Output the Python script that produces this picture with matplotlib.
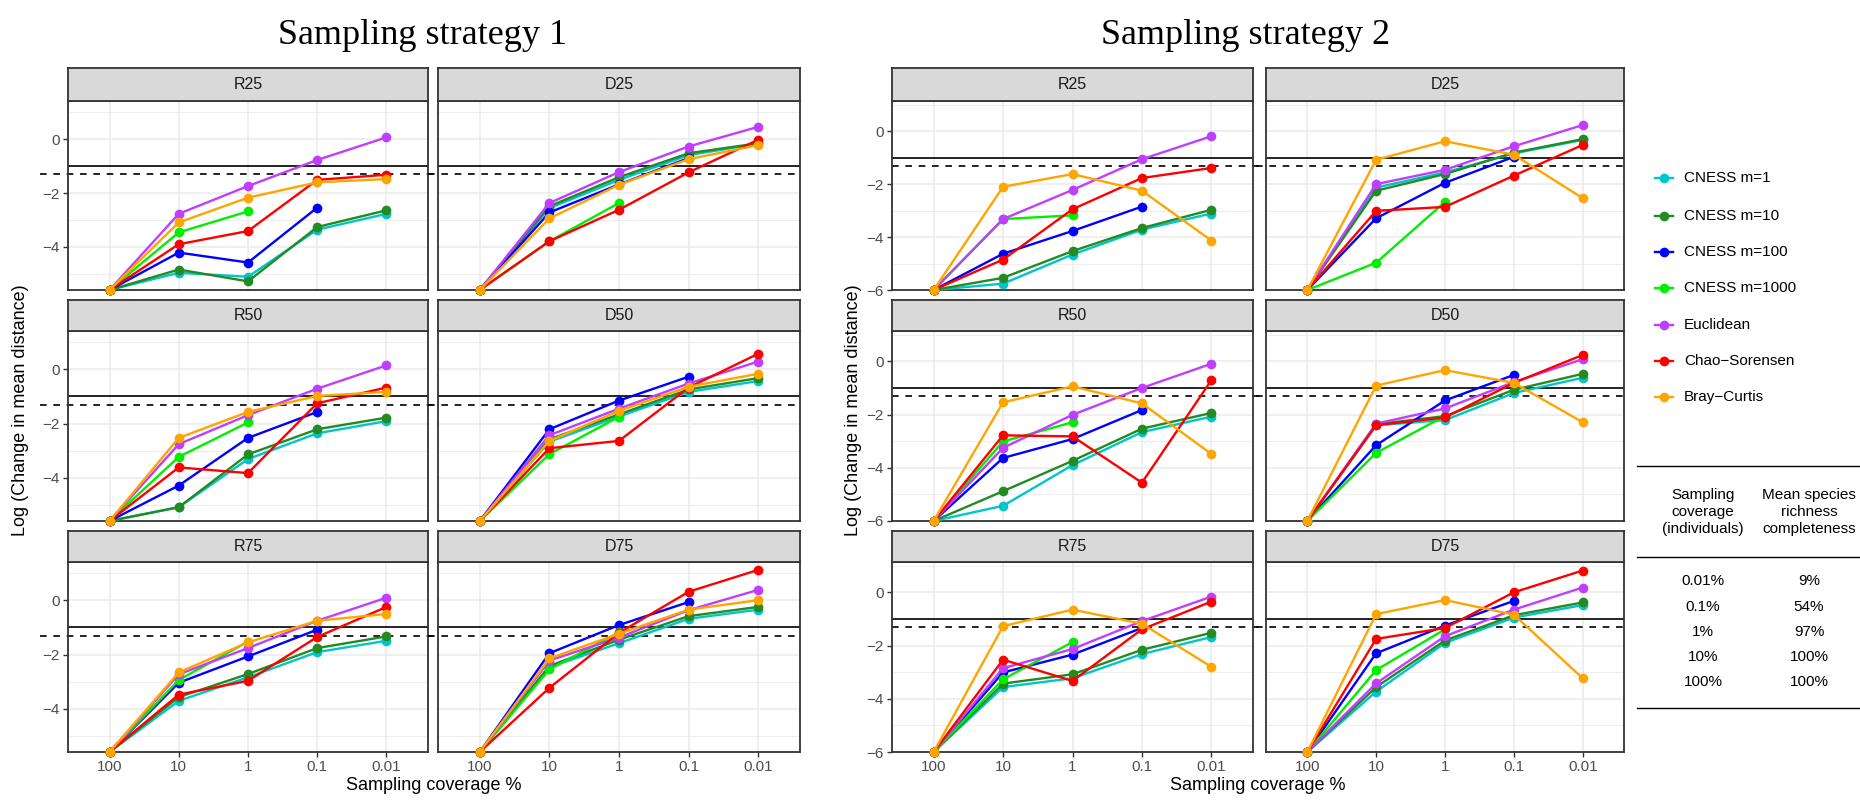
import numpy as np
import matplotlib
matplotlib.use("Agg")
import matplotlib.pyplot as plt
import matplotlib.transforms as mtransforms
from matplotlib.lines import Line2D

plt.rcParams["font.family"] = ["Liberation Sans", "DejaVu Sans"]

nan = np.nan

coverage = ["100", "10", "1", "0.1", "0.01"]
methods = ["CNESS m=1", "CNESS m=10", "CNESS m=100", "CNESS m=1000",
           "Euclidean", "Chao\u2212Sorensen", "Bray\u2212Curtis"]
colors = ["#00C5CD", "#228B22", "#0000FF", "#00EE00", "#BF3EFF", "#FF0000", "#FFA500"]

# rows follow the order of `methods`
s1_R25 = [[-5.6, -4.96, -5.11, -3.36, -2.77],
          [-5.6, -4.84, -5.28, -3.26, -2.64],
          [-5.6, -4.21, -4.58, -2.54, nan],
          [-5.6, -3.46, -2.68, nan, nan],
          [-5.6, -2.77, -1.74, -0.77, 0.07],
          [-5.6, -3.90, -3.41, -1.51, -1.32],
          [-5.6, -3.09, -2.17, -1.60, -1.48]]
s1_D25 = [[-5.6, -2.56, -1.51, -0.59, -0.17],
          [-5.6, -2.49, -1.41, -0.52, -0.15],
          [-5.6, -2.72, -1.68, -0.70, nan],
          [-5.6, -3.79, -2.37, nan, nan],
          [-5.6, -2.37, -1.22, -0.27, 0.46],
          [-5.6, -3.79, -2.62, -1.23, -0.02],
          [-5.6, -2.94, -1.69, -0.74, -0.22]]
s1_R50 = [[-5.6, -5.09, -3.31, -2.36, -1.91],
          [-5.6, -5.09, -3.14, -2.21, -1.78],
          [-5.6, -4.29, -2.53, -1.57, nan],
          [-5.6, -3.23, -1.96, nan, nan],
          [-5.6, -2.76, -1.69, -0.71, 0.15],
          [-5.6, -3.62, -3.83, -1.25, -0.67],
          [-5.6, -2.53, -1.57, -0.98, -0.83]]
s1_D50 = [[-5.6, -2.67, -1.74, -0.83, -0.43],
          [-5.6, -2.58, -1.66, -0.74, -0.32],
          [-5.6, -2.21, -1.15, -0.27, nan],
          [-5.6, -3.13, -1.75, nan, nan],
          [-5.6, -2.43, -1.45, -0.52, 0.29],
          [-5.6, -2.91, -2.64, -0.67, 0.58],
          [-5.6, -2.64, -1.53, -0.64, -0.16]]
s1_R75 = [[-5.6, -3.71, -2.84, -1.91, -1.49],
          [-5.6, -3.57, -2.72, -1.76, -1.33],
          [-5.6, -3.04, -2.07, -1.08, nan],
          [-5.6, -2.94, -1.52, nan, nan],
          [-5.6, -2.73, -1.76, -0.75, 0.10],
          [-5.6, -3.48, -2.97, -1.35, -0.24],
          [-5.6, -2.66, -1.55, -0.75, -0.50]]
s1_D75 = [[-5.6, -2.47, -1.58, -0.68, -0.34],
          [-5.6, -2.42, -1.45, -0.58, -0.24],
          [-5.6, -1.95, -0.91, -0.06, nan],
          [-5.6, -2.55, -1.18, nan, nan],
          [-5.6, -2.22, -1.37, -0.36, 0.39],
          [-5.6, -3.23, -1.20, 0.32, 1.13],
          [-5.6, -2.14, -1.23, -0.34, 0.01]]

s2_R25 = [[-6, -5.76, -4.66, -3.72, -3.11],
          [-6, -5.54, -4.53, -3.66, -2.97],
          [-6, -4.63, -3.77, -2.85, nan],
          [-6, -3.32, -3.18, nan, nan],
          [-6, -3.32, -2.22, -1.06, -0.19],
          [-6, -4.85, -2.95, -1.77, -1.39],
          [-6, -2.10, -1.62, -2.25, -4.13]]
s2_D25 = [[-6, -2.13, -1.56, -0.84, -0.33],
          [-6, -2.25, -1.62, -0.81, -0.30],
          [-6, -3.29, -1.95, -0.97, nan],
          [-6, -4.97, -2.67, nan, nan],
          [-6, -2.00, -1.46, -0.57, 0.23],
          [-6, -3.01, -2.86, -1.68, -0.52],
          [-6, -1.08, -0.38, -0.89, -2.53]]
s2_R50 = [[-6, -5.43, -3.90, -2.66, -2.08],
          [-6, -4.88, -3.74, -2.53, -1.94],
          [-6, -3.63, -2.92, -1.83, nan],
          [-6, -3.01, -2.29, nan, nan],
          [-6, -3.25, -2.01, -1.00, -0.09],
          [-6, -2.78, -2.82, -4.56, -0.71],
          [-6, -1.54, -0.94, -1.58, -3.48]]
s2_D50 = [[-6, -2.40, -2.21, -1.19, -0.62],
          [-6, -2.36, -2.06, -1.07, -0.47],
          [-6, -3.15, -1.47, -0.51, nan],
          [-6, -3.44, -2.05, nan, nan],
          [-6, -2.34, -1.77, -0.78, 0.08],
          [-6, -2.40, -2.11, -0.81, 0.24],
          [-6, -0.91, -0.33, -0.81, -2.29]]
s2_R75 = [[-6, -3.56, -3.23, -2.32, -1.68],
          [-6, -3.43, -3.08, -2.16, -1.52],
          [-6, -3.01, -2.34, -1.34, nan],
          [-6, -3.27, -1.87, nan, nan],
          [-6, -2.85, -2.13, -1.08, -0.16],
          [-6, -2.53, -3.33, -1.39, -0.35],
          [-6, -1.27, -0.65, -1.18, -2.80]]
s2_D75 = [[-6, -3.73, -1.90, -0.95, -0.48],
          [-6, -3.56, -1.81, -0.86, -0.38],
          [-6, -2.29, -1.25, -0.32, nan],
          [-6, -2.92, -1.39, nan, nan],
          [-6, -3.42, -1.65, -0.65, 0.18],
          [-6, -1.75, -1.34, 0.00, 0.82],
          [-6, -0.82, -0.29, -0.84, -3.23]]

table_coverage = ["0.01%", "0.1%", "1%", "10%", "100%"]
table_completeness = ["9%", "54%", "97%", "100%", "100%"]

# -------------------------------
# LAYOUT (pixels on a 1860x800 canvas)
# -------------------------------
W, H = 1860, 800
fig = plt.figure(figsize=(W / 100, H / 100), dpi=100)
fig.patch.set_facecolor("white")


def fx(x):
    return x / W


def fy(y):
    return 1 - y / H


def box(x0, x1, y0, y1):
    return [fx(x0), fy(y1), fx(x1) - fx(x0), fy(y0) - fy(y1)]


rows_px = [(68, 101, 290), (300, 331, 521), (531, 562, 752)]
strategies = [
    dict(title="Sampling strategy 1", cols=[(68, 428), (438, 800)],
         panels=[("R25", s1_R25), ("D25", s1_D25), ("R50", s1_R50),
                 ("D50", s1_D50), ("R75", s1_R75), ("D75", s1_D75)],
         ylim=(-5.6, 1.42), major=[-4, -2, 0], minor=[-5, -3, -1, 1],
         ylab_x=21, dash_x0=40),
    dict(title="Sampling strategy 2", cols=[(892, 1253), (1266, 1624)],
         panels=[("R25", s2_R25), ("D25", s2_D25), ("R50", s2_R50),
                 ("D50", s2_D50), ("R75", s2_R75), ("D75", s2_D75)],
         ylim=(-6.0, 1.14), major=[-6, -4, -2, 0], minor=[-5, -3, -1, 1],
         ylab_x=853, dash_x0=892),
]

border = "#333333"
xpos = np.arange(len(coverage))

for st in strategies:
    for k, (name, vals) in enumerate(st["panels"]):
        r, c = divmod(k, 2)
        s_top, p_top, p_bot = rows_px[r]
        x0, x1 = st["cols"][c]

        ax = fig.add_axes(box(x0, x1, p_top, p_bot))
        ax.set_xlim(-0.6, len(coverage) - 0.4)
        ax.set_ylim(*st["ylim"])
        for g in st["minor"]:
            ax.axhline(g, color="#EBEBEB", lw=0.6, zorder=0)
        for g in st["major"]:
            ax.axhline(g, color="#EBEBEB", lw=1.1, zorder=0)
        for g in xpos:
            ax.axvline(g, color="#EBEBEB", lw=1.1, zorder=0)

        ax.axhline(-1, color="black", lw=1.2, zorder=1)
        # dashed reference line runs across the whole strategy block
        blend = mtransforms.blended_transform_factory(fig.transFigure, ax.transData)
        xa = fx(st["dash_x0"]) if c == 0 else fx(x0 - 10)
        xb = fx(x1 + 10) if c == 0 else fx(x1)
        ax.plot([xa, xb], [np.log10(0.05)] * 2, color="black", lw=1.2,
                ls=(0, (4, 4)), transform=blend, clip_on=False, zorder=1)

        for vals_i, col in zip(vals, colors):
            ax.plot(xpos, vals_i, color=col, lw=1.7, marker="o", ms=7,
                    markeredgewidth=0, zorder=3, clip_on=False)

        for sp in ax.spines.values():
            sp.set_color(border)
            sp.set_linewidth(1.3)
        ax.set_yticks(st["major"])
        ax.set_xticks(xpos)
        ax.tick_params(colors=border, length=3.5, width=1.0, labelsize=11,
                       labelcolor="#4D4D4D", pad=2.5)
        if c == 0:
            ax.set_yticklabels([f"{v}".replace("-", "\u2212") for v in st["major"]])
        else:
            ax.tick_params(axis="y", length=0, labelleft=False)
        if r == 2:
            ax.set_xticklabels(coverage)
        else:
            ax.tick_params(axis="x", length=0, labelbottom=False)

        # strip
        sax = fig.add_axes(box(x0, x1, s_top, p_top))
        sax.set_xticks([])
        sax.set_yticks([])
        sax.set_facecolor("#D9D9D9")
        for sp in sax.spines.values():
            sp.set_color(border)
            sp.set_linewidth(1.3)
        sax.text(0.5, 0.5, name, ha="center", va="center", fontsize=11.5,
                 color="#1A1A1A", transform=sax.transAxes)

    cx0 = st["cols"][0][0]
    cx1 = st["cols"][1][1]
    fig.text(fx((cx0 + cx1) / 2 - 12), fy(36), st["title"], ha="center", va="center",
             fontsize=26, family="Liberation Serif")
    fig.text(fx((cx0 + cx1) / 2), fy(786), "Sampling coverage %", ha="center",
             va="center", fontsize=13)
    fig.text(fx(st["ylab_x"]), fy(410), "Log (Change in mean distance)",
             ha="center", va="center", rotation=90, fontsize=13)

# -------------------------------
# LEGEND
# -------------------------------
leg_y = [178, 216, 252, 288, 325, 361, 397]
for lab, col, yy in zip(methods, colors, leg_y):
    fig.add_artist(Line2D([fx(1655), fx(1673)], [fy(yy), fy(yy)], color=col, lw=1.7))
    fig.add_artist(Line2D([fx(1664)], [fy(yy)], color=col, marker="o", ms=7,
                          markeredgewidth=0))
    fig.text(fx(1684), fy(yy), lab, ha="left", va="center", fontsize=11)

# -------------------------------
# TABLE
# -------------------------------
for yy in [466, 557, 708]:
    fig.add_artist(Line2D([fx(1637), fx(1860)], [fy(yy), fy(yy)], color="black", lw=1.0))
fig.text(fx(1703), fy(512), "Sampling\ncoverage\n(individuals)", ha="center",
         va="center", fontsize=11, linespacing=1.3)
fig.text(fx(1809), fy(512), "Mean species\nrichness\ncompleteness", ha="center",
         va="center", fontsize=11, linespacing=1.3)
tab_y = [581, 607, 632, 657, 682]
for a, b, yy in zip(table_coverage, table_completeness, tab_y):
    fig.text(fx(1703), fy(yy), a, ha="center", va="center", fontsize=11)
    fig.text(fx(1809), fy(yy), b, ha="center", va="center", fontsize=11)

fig.savefig("out.png", dpi=100)
